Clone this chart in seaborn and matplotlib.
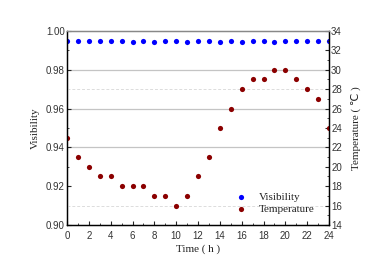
import pandas as pd
import matplotlib.pyplot as plt
import seaborn as sns
from matplotlib.ticker import MultipleLocator

# --- Data ---
hours = list(range(25))
visibility = [0.9947, 0.9947, 0.9947, 0.9947, 0.9947, 0.9947, 0.9942, 0.9948,
              0.9945, 0.9947, 0.9947, 0.9945, 0.9948, 0.9950, 0.9944, 0.9947,
              0.9945, 0.9947, 0.9947, 0.9942, 0.9948, 0.9947, 0.9947, 0.9947,
              0.9947]
temperature = [23, 21, 20, 19, 19, 18, 18, 18, 17, 17, 16, 17, 19, 21, 24, 26,
               28, 29, 29, 30, 30, 29, 28, 27, 24]

df = pd.DataFrame({"hour": hours, "visibility": visibility, "temperature": temperature})

sns.set_theme(style="white")
SERIF = "Liberation Serif"
SANS = "Liberation Sans"
plt.rcParams['font.family'] = [SANS, 'DejaVu Sans']

fig = plt.figure(figsize=(3.82, 2.70), dpi=100)
ax = fig.add_axes([0.1754, 0.1667, 0.6859, 0.7185])
ax2 = ax.twinx()

# grid lines like the original
for v in [0.94, 0.96, 0.98]:
    ax.axhline(v, color="#c4c4c4", lw=0.9, zorder=0)
for t in [16, 28]:
    ax2.axhline(t, color="#dcdcdc", lw=0.7, ls=(0, (3, 2)), zorder=0)

sns.scatterplot(data=df, x="hour", y="visibility", ax=ax, color="#0000ff",
                s=14, linewidth=0, label="Visibility", legend=False)
sns.scatterplot(data=df, x="hour", y="temperature", ax=ax2, color="#8b0000",
                s=14, linewidth=0, label="Temperature", legend=False)

ax.set_xlim(0, 24)
ax.set_ylim(0.90, 1.00)
ax2.set_ylim(14, 34)
ax.xaxis.set_major_locator(MultipleLocator(2))
ax.xaxis.set_minor_locator(MultipleLocator(1))
ax.yaxis.set_major_locator(MultipleLocator(0.02))
ax.yaxis.set_minor_locator(MultipleLocator(0.01))
ax2.yaxis.set_major_locator(MultipleLocator(2))
ax2.yaxis.set_minor_locator(MultipleLocator(1))
ax.yaxis.set_major_formatter(plt.FormatStrFormatter("%.2f"))

for a in (ax, ax2):
    a.tick_params(which="major", direction="in", length=3, width=0.8,
                  labelsize=7, labelcolor="#333333", pad=1.5)
    a.tick_params(which="minor", direction="in", length=1.5, width=0.6)
ax.tick_params(axis="y", which="both", left=True, right=False)
ax.tick_params(axis="x", which="both", bottom=True, pad=4)
ax2.tick_params(axis="y", which="both", right=True, left=False)

for a in (ax, ax2):
    for side in ["left", "bottom", "right"]:
        a.spines[side].set_color("black")
        a.spines[side].set_linewidth(0.9)
    a.spines["top"].set_color("#888888")
    a.spines["top"].set_linewidth(0.9)

ax.set_xlabel("Time ( h )", family=SERIF, fontsize=8, color="#222222", labelpad=3)
ax.set_ylabel("Visibility", family=SERIF, fontsize=8, color="#222222", labelpad=4)
ax2.set_ylabel("Temperature ( \u2103 )", family=[SERIF, 'DejaVu Sans'], fontsize=8,
               color="#222222", rotation=90, labelpad=6)

h1, l1 = ax.get_legend_handles_labels()
h2, l2 = ax2.get_legend_handles_labels()
leg = ax2.legend(h1 + h2, l1 + l2, loc="lower right", bbox_to_anchor=(0.975, 0.015),
                 frameon=False, prop={"family": SERIF, "size": 8},
                 handletextpad=0.6, labelspacing=0.2, borderaxespad=0.3)
for txt in leg.get_texts():
    txt.set_color("#222222")

fig.savefig("out.png", dpi=100)
